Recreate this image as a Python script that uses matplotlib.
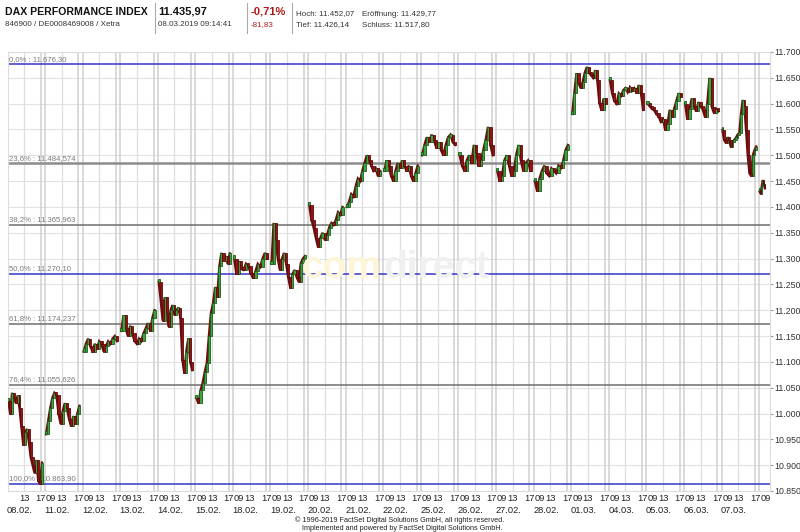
import numpy as np
import matplotlib
matplotlib.use("Agg")
import matplotlib.pyplot as plt
from matplotlib.lines import Line2D

plt.rcParams['font.family'] = ['Liberation Sans', 'DejaVu Sans']

# trading days shown on the x axis
days = ["08.02.", "11.02.", "12.02.", "13.02.", "14.02.", "15.02.", "18.02.",
        "19.02.", "20.02.", "21.02.", "22.02.", "25.02.", "26.02.", "27.02.",
        "28.02.", "01.03.", "04.03.", "05.03.", "06.03.", "07.03.", "08.03."]

# intraday prices per day
prices = [
    [11025, 11000, 11040, 11030, 11020, 11035, 11010, 10975, 10940, 10965,
     10970, 10945, 10915, 10900, 10885, 10910, 10870, 10864, 10905],
    [10960, 10985, 11010, 11030, 11040, 11035, 11000, 10980, 11005, 11020,
     11010, 10990, 10975, 10995, 10980, 11000, 11015],
    [11120, 11135, 11145, 11130, 11120, 11135, 11125, 11140, 11135, 11120,
     11130, 11140, 11135, 11145, 11150, 11140],
    [11160, 11190, 11165, 11150, 11170, 11155, 11140, 11135, 11145, 11140,
     11155, 11165, 11175, 11160, 11185, 11200],
    [11255, 11220, 11180, 11225, 11195, 11168, 11200, 11210, 11190, 11200,
     11205, 11185, 11104, 11078, 11120, 11146, 11100, 11084],
    [11030, 11020, 11045, 11059, 11080, 11098, 11150, 11195, 11214, 11245,
     11225, 11285, 11311, 11295, 11305, 11290, 11310],
    [11300, 11270, 11295, 11280, 11278, 11290, 11285, 11272, 11262, 11275,
     11290, 11284, 11300, 11311, 11300],
    [11290, 11369, 11336, 11300, 11278, 11300, 11311, 11290, 11264, 11243,
     11270, 11278, 11264, 11255, 11291, 11300, 11305],
    [11404, 11375, 11360, 11340, 11322, 11340, 11350, 11336, 11345, 11360,
     11369, 11365, 11375, 11390, 11385, 11400],
    [11400, 11410, 11425, 11420, 11440, 11455, 11450, 11470, 11485, 11500,
     11490, 11480, 11470, 11475, 11460, 11470],
    [11470, 11490, 11480, 11460, 11450, 11470, 11485, 11475, 11490, 11480,
     11470, 11480, 11460, 11450, 11465, 11480],
    [11500, 11520, 11535, 11525, 11540, 11530, 11515, 11525, 11510, 11500,
     11520, 11535, 11540, 11525, 11520],
    [11500, 11480, 11470, 11490, 11500, 11485, 11520, 11505, 11480, 11490,
     11510, 11530, 11555, 11520, 11500],
    [11470, 11450, 11460, 11490, 11500, 11480, 11460, 11470, 11500, 11520,
     11490, 11470, 11485, 11490, 11470],
    [11450, 11430, 11455, 11470, 11480, 11465, 11460, 11475, 11470, 11465,
     11480, 11475, 11490, 11510, 11520],
    [11580, 11621, 11659, 11640, 11630, 11642, 11660, 11671, 11660, 11655,
     11650, 11665, 11645, 11601, 11587, 11610, 11600],
    [11645, 11620, 11605, 11600, 11620, 11615, 11626, 11630, 11622, 11632,
     11625, 11630, 11621, 11636, 11620, 11588],
    [11600, 11595, 11590, 11587, 11580, 11575, 11565, 11570, 11549, 11560,
     11588, 11574, 11590, 11605, 11620, 11613],
    [11600, 11570, 11590, 11610, 11595, 11585, 11603, 11595, 11588, 11574,
     11600, 11650, 11594, 11582, 11590, 11585],
    [11549, 11530, 11524, 11535, 11530, 11516, 11525, 11530, 11534, 11540,
     11543, 11580, 11607, 11595, 11549, 11500, 11465, 11460, 11500, 11510,
     11517],
    [11430, 11426, 11440, 11452, 11445, 11436],
]

fib_levels = [11676.30, 11484.574, 11365.963, 11270.10, 11174.237, 11055.626, 10863.90]
fib_labels = ["0,0% : 11.676,30", "23,6% : 11.484,574", "38,2% : 11.365,963",
              "50,0% : 11.270,10", "61,8% : 11.174,237", "76,4% : 11.055,626",
              "100,0% : 10.863,90"]

y_ticks = list(range(10850, 11701, 50))

# time axis: one unit = one hour, day k opens at 9k (09:00), closes at 9k+8.5
DAY = 9.0
SESSION = 8.5
LAST_SESSION = 1.5   # 08.03. only the first minutes are traded

W, H = 800, 532
fig = plt.figure(figsize=(W / 100, H / 100), dpi=100)
ax = fig.add_axes([8 / W, 1 - 491 / H, (770 - 8) / W, (491 - 52) / H])


def fx(px):
    return px / W


def fy(py):
    return 1 - py / H


# watermark
fig.text(fx(381), fy(268), "com", fontsize=28, fontweight='bold', color='#fdf5d8',
         ha='right', va='center', zorder=0)
fig.text(fx(383), fy(268), "direct", fontsize=28, fontweight='bold', color='#f0f0f0',
         ha='left', va='center', zorder=0)
ax.patch.set_alpha(0)

# grid
for v in y_ticks:
    ax.axhline(v, color='#e2e2e2', lw=0.8, zorder=1)
for k in range(len(days)):
    base = k * DAY
    ax.axvline(base + 4, color='#dedede', lw=0.9, zorder=1)
    if k > 0:
        ax.axvline(base, color='#cfcfcf', lw=1.1, zorder=1)
    if k < len(days) - 1:
        ax.axvline(base + 8, color='#cfcfcf', lw=1.1, zorder=1)

# fibonacci retracement lines
fib_style = {0: ('#3535c8', 1.1), 3: ('#3535c8', 1.1), 6: ('#3535c8', 1.1),
             1: ('#8c8c8c', 1.8)}
for i, (lvl, lab) in enumerate(zip(fib_levels, fib_labels)):
    col, lw = fib_style.get(i, ('#6e6e6e', 1.1))
    ax.axhline(lvl, color=col, lw=lw, zorder=2)
    ax.text(0.3, lvl + 3, lab, fontsize=5.6, color='#7a7a7a', ha='left', va='bottom', zorder=2)

# candles: open = previous price, close = price
for k, vals in enumerate(prices):
    n = len(vals)
    span = LAST_SESSION if k == len(prices) - 1 else SESSION
    step = span / n
    xs = k * DAY + (np.arange(n) + 0.5) * step
    closes = np.array(vals, dtype=float)
    opens = np.concatenate([[closes[0]], closes[:-1]])
    ax.plot(xs, closes, color='#6a1010', lw=1.7, solid_joinstyle='miter', zorder=3)
    up = closes >= opens
    bottoms = np.minimum(opens, closes)
    heights = np.maximum(np.abs(closes - opens), 6)
    ax.bar(xs[up], heights[up], bottom=bottoms[up], width=step * 1.0,
           color='#3aa63a', edgecolor='#1d5c1d', linewidth=0.6, zorder=4)
    ax.bar(xs[~up], heights[~up], bottom=bottoms[~up], width=step * 1.0,
           color='#931414', edgecolor='#600909', linewidth=0.6, zorder=4)

ax.set_xlim(0.15, 182.6)
ax.set_ylim(10850, 11700)

for s in ax.spines.values():
    s.set_color('#dcdcdc')
    s.set_linewidth(0.8)

ax.set_xticks([])
ax.yaxis.tick_right()
ax.set_yticks(y_ticks)
ax.set_yticklabels([f"{v:,}".replace(",", ".") for v in y_ticks], fontsize=6.3, color='#333333')
ax.tick_params(axis='y', length=2.5, width=0.8, color='#999999', pad=0.8)

# x labels (hours and days)
trans = ax.get_xaxis_transform()
for k, d in enumerate(days):
    base = k * DAY
    lab_kw = dict(fontsize=6.7, color='#222222', va='top', transform=trans, clip_on=False)
    if k > 0:
        ax.text(base + 0.25, -0.007, "09", ha='left', **lab_kw)
    if k < len(days) - 1:
        ax.text(base + 4, -0.007, "13", ha='center', **lab_kw)
        ax.text(base + 8, -0.007, "17", ha='center', **lab_kw)
        ax.text(base + 3, -0.035, d, ha='center', **lab_kw)

# header
fig.text(fx(5), fy(12), "DAX PERFORMANCE INDEX", fontsize=7.6, fontweight='bold',
         color='#111111', va='center')
fig.text(fx(5), fy(25), "846900 / DE0008469008 / Xetra", fontsize=5.8,
         color='#333333', va='center')
fig.text(fx(158), fy(12), "11.435,97", fontsize=8, fontweight='bold',
         color='#111111', va='center')
fig.text(fx(158), fy(25), "08.03.2019 09:14:41", fontsize=5.8,
         color='#333333', va='center')
fig.text(fx(251), fy(12), "-0,71%", fontsize=8, fontweight='bold',
         color='#b01818', va='center')
fig.text(fx(251), fy(25), "-81,83", fontsize=5.8, color='#b01818', va='center')
fig.text(fx(296), fy(14), "Hoch: 11.452,07", fontsize=5.8, color='#333333', va='center')
fig.text(fx(362), fy(14), "Eröffnung: 11.429,77", fontsize=5.8, color='#333333', va='center')
fig.text(fx(296), fy(25), "Tief: 11.426,14", fontsize=5.8, color='#333333', va='center')
fig.text(fx(362), fy(25), "Schluss: 11.517,80", fontsize=5.8, color='#333333', va='center')
for sx in (155, 247, 292):
    fig.add_artist(Line2D([fx(sx), fx(sx)], [fy(3), fy(33)], color='#aaaaaa', lw=0.8))

# footer
fig.text(0.5, fy(520), "\u00a9 1996-2019 FactSet Digital Solutions GmbH, all rights reserved.",
         fontsize=5.2, color='#222222', ha='center', va='center')
fig.text(0.503, fy(529), "Implemented and powered by FactSet Digital Solutions GmbH.",
         fontsize=5.2, color='#222222', ha='center', va='center')

fig.savefig("out.png", dpi=100)
